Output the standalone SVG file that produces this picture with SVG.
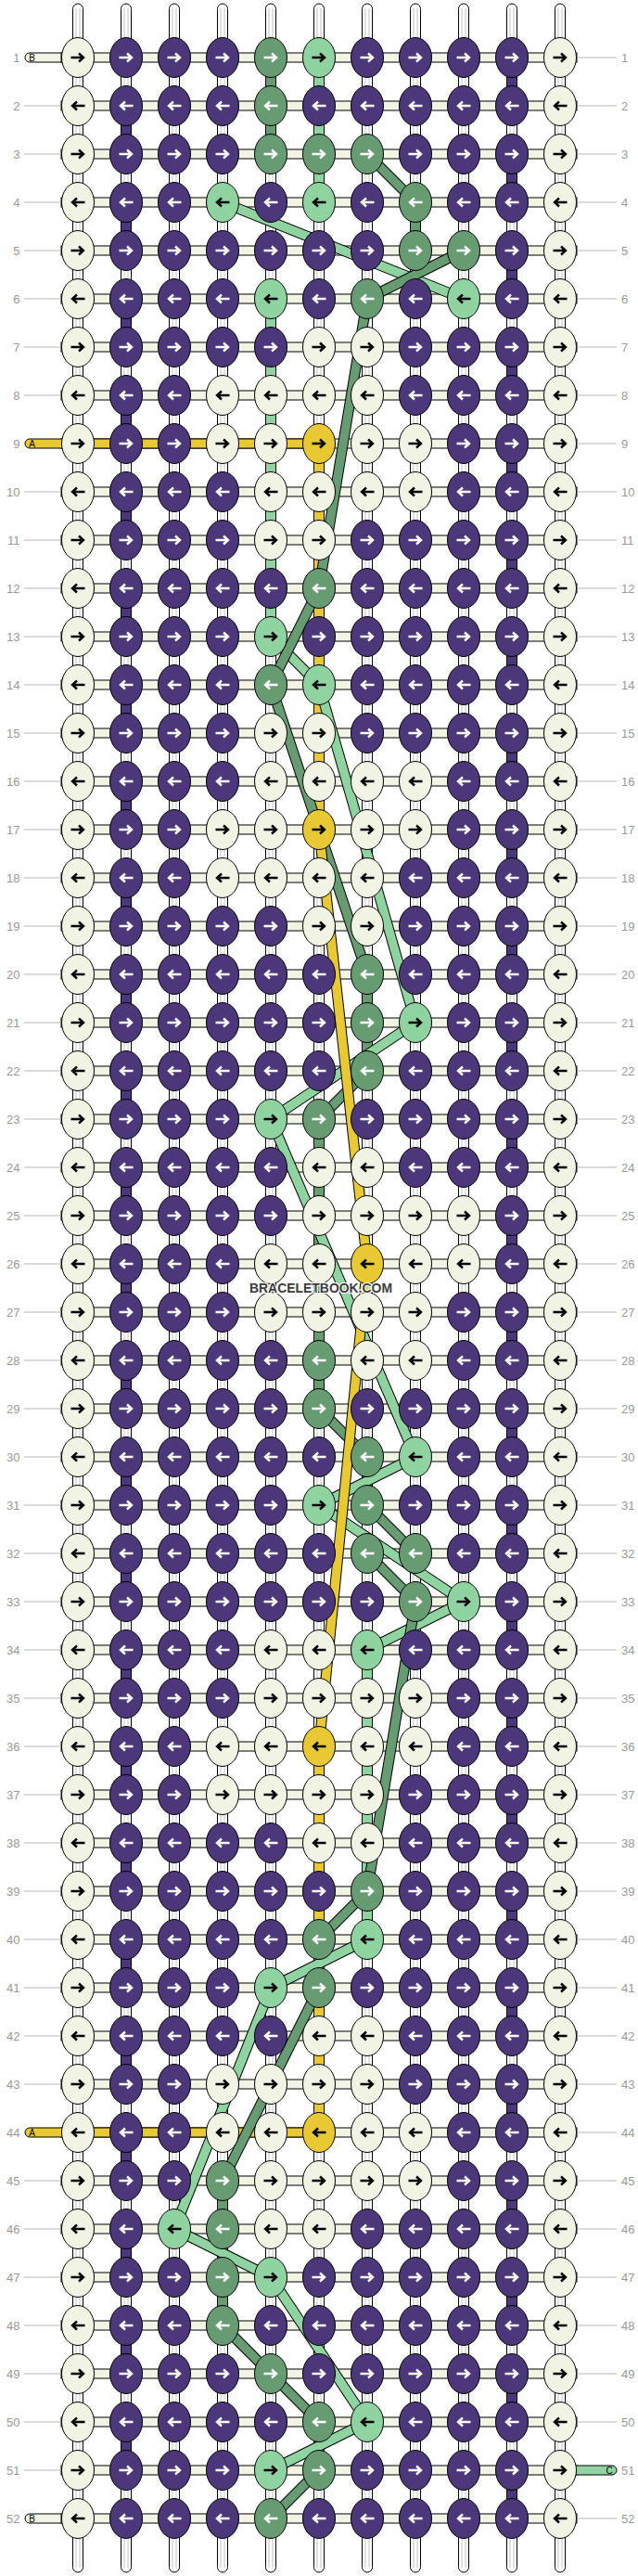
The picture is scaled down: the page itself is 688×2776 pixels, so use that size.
<svg xmlns="http://www.w3.org/2000/svg" width="688" height="2776" viewBox="0 0 688 2776">
<style>
.vs{fill:#fff;stroke:#000;stroke-width:1}
.vi{stroke:#c4c4c4;stroke-width:1;fill:none}
.cg{fill:#679b72;stroke:#000;stroke-width:1}
.cl{fill:#8fd4a0;stroke:#000;stroke-width:1}
.cy{fill:#e8c934;stroke:#000;stroke-width:1}
.cp{fill:#4b3779;stroke:#000;stroke-width:1}
.bd{fill:#f1f4e4;stroke:#000;stroke-width:1}
.ll{stroke:#b4b4b4;stroke-width:1}
.lb{font-family:"Liberation Sans",Arial,sans-serif;font-size:13px;fill:#999}
.pl{font-family:"Liberation Sans",Arial,sans-serif;font-size:10px;fill:#000;text-anchor:middle}
.so{stroke:#000;stroke-width:11.5;fill:none}
.sg{stroke:#679b72;stroke-width:9.5;fill:none}
.sl{stroke:#8fd4a0;stroke-width:9.5;fill:none}
.sy{stroke:#e8c934;stroke-width:9.5;fill:none}
</style>
<defs>
<path id="ar" d="M-7.5,0H5.5M1,-4.5L6,0L1,4.5" fill="none" stroke-width="2.4"/>
<path id="al" d="M7.5,0H-5.5M-1,-4.5L-6,0L-1,4.5" fill="none" stroke-width="2.4"/>
<g id="Cr"><ellipse rx="17.5" ry="21.5" fill="#f1f4e4" stroke="#000"/><use href="#ar" stroke="#000"/></g>
<g id="Cl"><ellipse rx="17.5" ry="21.5" fill="#f1f4e4" stroke="#000"/><use href="#al" stroke="#000"/></g>
<g id="Pr"><ellipse rx="17.5" ry="21.5" fill="#4b3779" stroke="#000"/><use href="#ar" stroke="#fff"/></g>
<g id="Pl"><ellipse rx="17.5" ry="21.5" fill="#4b3779" stroke="#000"/><use href="#al" stroke="#fff"/></g>
<g id="Gr"><ellipse rx="17.5" ry="21.5" fill="#679b72" stroke="#000"/><use href="#ar" stroke="#fff"/></g>
<g id="Gl"><ellipse rx="17.5" ry="21.5" fill="#679b72" stroke="#000"/><use href="#al" stroke="#fff"/></g>
<g id="Lr"><ellipse rx="17.5" ry="21.5" fill="#8fd4a0" stroke="#000"/><use href="#ar" stroke="#000"/></g>
<g id="Ll"><ellipse rx="17.5" ry="21.5" fill="#8fd4a0" stroke="#000"/><use href="#al" stroke="#000"/></g>
<g id="Yr"><ellipse rx="17.5" ry="21.5" fill="#e8c934" stroke="#000"/><use href="#ar" stroke="#000"/></g>
<g id="Yl"><ellipse rx="17.5" ry="21.5" fill="#e8c934" stroke="#000"/><use href="#al" stroke="#000"/></g>
</defs>
<rect width="688" height="2776" fill="#fff"/>
<g id="vertical-strings">
<rect class="vs" x="78.5" y="4" width="11" height="2768" rx="5.5"/>
<rect class="vs" x="130.5" y="4" width="11" height="2768" rx="5.5"/>
<rect class="vs" x="182.5" y="4" width="11" height="2768" rx="5.5"/>
<rect class="vs" x="234.5" y="4" width="11" height="2768" rx="5.5"/>
<rect class="vs" x="286.5" y="4" width="11" height="2768" rx="5.5"/>
<rect class="vs" x="338.5" y="4" width="11" height="2768" rx="5.5"/>
<rect class="vs" x="390.5" y="4" width="11" height="2768" rx="5.5"/>
<rect class="vs" x="442.5" y="4" width="11" height="2768" rx="5.5"/>
<rect class="vs" x="494.5" y="4" width="11" height="2768" rx="5.5"/>
<rect class="vs" x="546.5" y="4" width="11" height="2768" rx="5.5"/>
<rect class="vs" x="598.5" y="4" width="11" height="2768" rx="5.5"/>
<path class="vi" d="M82,9V2767M86,9V2767M134,9V2767M138,9V2767M186,9V2767M190,9V2767M238,9V2767M242,9V2767M290,9V2767M294,9V2767M342,9V2767M346,9V2767M394,9V2767M398,9V2767M446,9V2767M450,9V2767M498,9V2767M502,9V2767M550,9V2767M554,9V2767M602,9V2767M606,9V2767"/>
</g>
<g id="colored-vertical-segments">
<rect class="cp" x="130.5" y="131" width="11" height="18"/>
<rect class="cp" x="130.5" y="235" width="11" height="18"/>
<rect class="cp" x="130.5" y="339" width="11" height="18"/>
<rect class="cp" x="130.5" y="443" width="11" height="18"/>
<rect class="cp" x="130.5" y="547" width="11" height="18"/>
<rect class="cp" x="130.5" y="651" width="11" height="18"/>
<rect class="cp" x="130.5" y="755" width="11" height="18"/>
<rect class="cp" x="130.5" y="859" width="11" height="18"/>
<rect class="cp" x="130.5" y="963" width="11" height="18"/>
<rect class="cp" x="130.5" y="1067" width="11" height="18"/>
<rect class="cp" x="130.5" y="1171" width="11" height="18"/>
<rect class="cp" x="130.5" y="1275" width="11" height="18"/>
<rect class="cp" x="130.5" y="1379" width="11" height="18"/>
<rect class="cp" x="130.5" y="1483" width="11" height="18"/>
<rect class="cp" x="130.5" y="1587" width="11" height="18"/>
<rect class="cp" x="130.5" y="1691" width="11" height="18"/>
<rect class="cp" x="130.5" y="1795" width="11" height="18"/>
<rect class="cp" x="130.5" y="1899" width="11" height="18"/>
<rect class="cp" x="130.5" y="2003" width="11" height="18"/>
<rect class="cp" x="130.5" y="2107" width="11" height="18"/>
<rect class="cp" x="130.5" y="2211" width="11" height="18"/>
<rect class="cp" x="130.5" y="2315" width="11" height="18"/>
<rect class="cp" x="130.5" y="2419" width="11" height="18"/>
<rect class="cp" x="130.5" y="2523" width="11" height="18"/>
<rect class="cp" x="130.5" y="2627" width="11" height="18"/>
<rect class="cp" x="546.5" y="79" width="11" height="18"/>
<rect class="cp" x="546.5" y="183" width="11" height="18"/>
<rect class="cp" x="546.5" y="287" width="11" height="18"/>
<rect class="cp" x="546.5" y="391" width="11" height="18"/>
<rect class="cp" x="546.5" y="495" width="11" height="18"/>
<rect class="cp" x="546.5" y="599" width="11" height="18"/>
<rect class="cp" x="546.5" y="703" width="11" height="18"/>
<rect class="cp" x="546.5" y="807" width="11" height="18"/>
<rect class="cp" x="546.5" y="911" width="11" height="18"/>
<rect class="cp" x="546.5" y="1015" width="11" height="18"/>
<rect class="cp" x="546.5" y="1119" width="11" height="18"/>
<rect class="cp" x="546.5" y="1223" width="11" height="18"/>
<rect class="cp" x="546.5" y="1327" width="11" height="18"/>
<rect class="cp" x="546.5" y="1431" width="11" height="18"/>
<rect class="cp" x="546.5" y="1535" width="11" height="18"/>
<rect class="cp" x="546.5" y="1639" width="11" height="18"/>
<rect class="cp" x="546.5" y="1743" width="11" height="18"/>
<rect class="cp" x="546.5" y="1847" width="11" height="18"/>
<rect class="cp" x="546.5" y="1951" width="11" height="18"/>
<rect class="cp" x="546.5" y="2055" width="11" height="18"/>
<rect class="cp" x="546.5" y="2159" width="11" height="18"/>
<rect class="cp" x="546.5" y="2263" width="11" height="18"/>
<rect class="cp" x="546.5" y="2367" width="11" height="18"/>
<rect class="cp" x="546.5" y="2471" width="11" height="18"/>
<rect class="cp" x="546.5" y="2575" width="11" height="18"/>
<rect class="cp" x="546.5" y="2679" width="11" height="18"/>
<rect class="cg" x="286.5" y="79" width="11" height="18"/>
<rect class="cg" x="286.5" y="131" width="11" height="18"/>
<rect class="cg" x="442.5" y="235" width="11" height="18"/>
<rect class="cg" x="390.5" y="1067" width="11" height="18"/>
<rect class="cg" x="390.5" y="1119" width="11" height="18"/>
<rect class="cg" x="338.5" y="1223" width="11" height="18"/>
<rect class="cg" x="338.5" y="1275" width="11" height="18"/>
<rect class="cg" x="338.5" y="1327" width="11" height="18"/>
<rect class="cg" x="338.5" y="1379" width="11" height="18"/>
<rect class="cg" x="338.5" y="1431" width="11" height="18"/>
<rect class="cg" x="338.5" y="1483" width="11" height="18"/>
<rect class="cg" x="390.5" y="1587" width="11" height="18"/>
<rect class="cg" x="234.5" y="2367" width="11" height="18"/>
<rect class="cg" x="234.5" y="2419" width="11" height="18"/>
<rect class="cg" x="234.5" y="2471" width="11" height="18"/>
<rect class="cg" x="338.5" y="2627" width="11" height="18"/>
<rect class="cl" x="338.5" y="79" width="11" height="18"/>
<rect class="cl" x="338.5" y="131" width="11" height="18"/>
<rect class="cl" x="338.5" y="183" width="11" height="18"/>
<rect class="cl" x="286.5" y="339" width="11" height="18"/>
<rect class="cl" x="286.5" y="391" width="11" height="18"/>
<rect class="cl" x="286.5" y="443" width="11" height="18"/>
<rect class="cl" x="286.5" y="495" width="11" height="18"/>
<rect class="cl" x="286.5" y="547" width="11" height="18"/>
<rect class="cl" x="286.5" y="599" width="11" height="18"/>
<rect class="cl" x="286.5" y="651" width="11" height="18"/>
<rect class="cl" x="390.5" y="1795" width="11" height="18"/>
<rect class="cl" x="390.5" y="1847" width="11" height="18"/>
<rect class="cl" x="390.5" y="1899" width="11" height="18"/>
<rect class="cl" x="390.5" y="1951" width="11" height="18"/>
<rect class="cl" x="390.5" y="2003" width="11" height="18"/>
<rect class="cl" x="390.5" y="2055" width="11" height="18"/>
<rect class="cy" x="338.5" y="495" width="11" height="18"/>
<rect class="cy" x="338.5" y="547" width="11" height="18"/>
<rect class="cy" x="338.5" y="599" width="11" height="18"/>
<rect class="cy" x="338.5" y="651" width="11" height="18"/>
<rect class="cy" x="338.5" y="703" width="11" height="18"/>
<rect class="cy" x="338.5" y="755" width="11" height="18"/>
<rect class="cy" x="338.5" y="807" width="11" height="18"/>
<rect class="cy" x="338.5" y="859" width="11" height="18"/>
<rect class="cy" x="338.5" y="1899" width="11" height="18"/>
<rect class="cy" x="338.5" y="1951" width="11" height="18"/>
<rect class="cy" x="338.5" y="2003" width="11" height="18"/>
<rect class="cy" x="338.5" y="2055" width="11" height="18"/>
<rect class="cy" x="338.5" y="2107" width="11" height="18"/>
<rect class="cy" x="338.5" y="2159" width="11" height="18"/>
<rect class="cy" x="338.5" y="2211" width="11" height="18"/>
<rect class="cy" x="338.5" y="2263" width="11" height="18"/>
</g>
<g id="row-bands">
<rect class="bd" x="27" y="57" width="60" height="10" rx="5"/>
<rect class="bd" x="66" y="57" width="556" height="10"/>
<rect class="bd" x="66" y="109" width="556" height="10"/>
<rect class="bd" x="66" y="161" width="556" height="10"/>
<rect class="bd" x="66" y="213" width="556" height="10"/>
<rect class="bd" x="66" y="265" width="556" height="10"/>
<rect class="bd" x="66" y="317" width="556" height="10"/>
<rect class="bd" x="66" y="369" width="556" height="10"/>
<rect class="bd" x="66" y="421" width="556" height="10"/>
<rect class="bd" x="66" y="473" width="556" height="10"/>
<rect class="bd" x="66" y="525" width="556" height="10"/>
<rect class="bd" x="66" y="577" width="556" height="10"/>
<rect class="bd" x="66" y="629" width="556" height="10"/>
<rect class="bd" x="66" y="681" width="556" height="10"/>
<rect class="bd" x="66" y="733" width="556" height="10"/>
<rect class="bd" x="66" y="785" width="556" height="10"/>
<rect class="bd" x="66" y="837" width="556" height="10"/>
<rect class="bd" x="66" y="889" width="556" height="10"/>
<rect class="bd" x="66" y="941" width="556" height="10"/>
<rect class="bd" x="66" y="993" width="556" height="10"/>
<rect class="bd" x="66" y="1045" width="556" height="10"/>
<rect class="bd" x="66" y="1097" width="556" height="10"/>
<rect class="bd" x="66" y="1149" width="556" height="10"/>
<rect class="bd" x="66" y="1201" width="556" height="10"/>
<rect class="bd" x="66" y="1253" width="556" height="10"/>
<rect class="bd" x="66" y="1305" width="556" height="10"/>
<rect class="bd" x="66" y="1357" width="556" height="10"/>
<rect class="bd" x="66" y="1409" width="556" height="10"/>
<rect class="bd" x="66" y="1461" width="556" height="10"/>
<rect class="bd" x="66" y="1513" width="556" height="10"/>
<rect class="bd" x="66" y="1565" width="556" height="10"/>
<rect class="bd" x="66" y="1617" width="556" height="10"/>
<rect class="bd" x="66" y="1669" width="556" height="10"/>
<rect class="bd" x="66" y="1721" width="556" height="10"/>
<rect class="bd" x="66" y="1773" width="556" height="10"/>
<rect class="bd" x="66" y="1825" width="556" height="10"/>
<rect class="bd" x="66" y="1877" width="556" height="10"/>
<rect class="bd" x="66" y="1929" width="556" height="10"/>
<rect class="bd" x="66" y="1981" width="556" height="10"/>
<rect class="bd" x="66" y="2033" width="556" height="10"/>
<rect class="bd" x="66" y="2085" width="556" height="10"/>
<rect class="bd" x="66" y="2137" width="556" height="10"/>
<rect class="bd" x="66" y="2189" width="556" height="10"/>
<rect class="bd" x="66" y="2241" width="556" height="10"/>
<rect class="bd" x="66" y="2293" width="556" height="10"/>
<rect class="bd" x="66" y="2345" width="556" height="10"/>
<rect class="bd" x="66" y="2397" width="556" height="10"/>
<rect class="bd" x="66" y="2449" width="556" height="10"/>
<rect class="bd" x="66" y="2501" width="556" height="10"/>
<rect class="bd" x="66" y="2553" width="556" height="10"/>
<rect class="bd" x="66" y="2605" width="556" height="10"/>
<rect class="bd" x="66" y="2657" width="556" height="10"/>
<rect class="bd" x="27" y="2709" width="60" height="10" rx="5"/>
<rect class="bd" x="66" y="2709" width="556" height="10"/>
<rect x="27" y="473" width="320" height="10" rx="5" fill="#e8c934" stroke="#000"/>
<rect x="27" y="2293" width="320" height="10" rx="5" fill="#e8c934" stroke="#000"/>
<rect x="600" y="2657" width="65" height="10" rx="5" fill="#8fd4a0" stroke="#000"/>
<text class="pl" x="34.5" y="65.6">B</text>
<text class="pl" x="34.5" y="481.6">A</text>
<text class="pl" x="34.5" y="2301.6">A</text>
<text class="pl" x="34.5" y="2717.6">B</text>
<text class="pl" x="657" y="2665.6">C</text>
</g>
<g id="connectors">
<line class="so" x1="396" y1="166" x2="448" y2="218"/><line class="sg" x1="396" y1="166" x2="448" y2="218"/>
<line class="so" x1="240" y1="218" x2="500" y2="322"/><line class="sl" x1="240" y1="218" x2="500" y2="322"/>
<line class="so" x1="500" y1="270" x2="396" y2="322"/><line class="sg" x1="500" y1="270" x2="396" y2="322"/>
<line class="so" x1="396" y1="322" x2="344" y2="634"/><line class="sg" x1="396" y1="322" x2="344" y2="634"/>
<line class="so" x1="292" y1="686" x2="344" y2="738"/><line class="sl" x1="292" y1="686" x2="344" y2="738"/>
<line class="so" x1="344" y1="634" x2="292" y2="738"/><line class="sg" x1="344" y1="634" x2="292" y2="738"/>
<line class="so" x1="292" y1="738" x2="396" y2="1050"/><line class="sg" x1="292" y1="738" x2="396" y2="1050"/>
<line class="so" x1="344" y1="738" x2="448" y2="1102"/><line class="sl" x1="344" y1="738" x2="448" y2="1102"/>
<line class="so" x1="448" y1="1102" x2="292" y2="1206"/><line class="sl" x1="448" y1="1102" x2="292" y2="1206"/>
<line class="so" x1="396" y1="1154" x2="344" y2="1206"/><line class="sg" x1="396" y1="1154" x2="344" y2="1206"/>
<line class="so" x1="292" y1="1206" x2="448" y2="1570"/><line class="sl" x1="292" y1="1206" x2="448" y2="1570"/>
<line class="so" x1="344" y1="1518" x2="396" y2="1570"/><line class="sg" x1="344" y1="1518" x2="396" y2="1570"/>
<line class="so" x1="448" y1="1570" x2="344" y2="1622"/><line class="sl" x1="448" y1="1570" x2="344" y2="1622"/>
<line class="so" x1="396" y1="1622" x2="448" y2="1674"/><line class="sg" x1="396" y1="1622" x2="448" y2="1674"/>
<line class="so" x1="396" y1="1674" x2="448" y2="1726"/><line class="sg" x1="396" y1="1674" x2="448" y2="1726"/>
<line class="so" x1="344" y1="1622" x2="500" y2="1726"/><line class="sl" x1="344" y1="1622" x2="500" y2="1726"/>
<line class="so" x1="500" y1="1726" x2="396" y2="1778"/><line class="sl" x1="500" y1="1726" x2="396" y2="1778"/>
<line class="so" x1="448" y1="1726" x2="396" y2="2038"/><line class="sg" x1="448" y1="1726" x2="396" y2="2038"/>
<line class="so" x1="396" y1="2038" x2="344" y2="2090"/><line class="sg" x1="396" y1="2038" x2="344" y2="2090"/>
<line class="so" x1="396" y1="2090" x2="292" y2="2142"/><line class="sl" x1="396" y1="2090" x2="292" y2="2142"/>
<line class="so" x1="344" y1="2142" x2="240" y2="2350"/><line class="sg" x1="344" y1="2142" x2="240" y2="2350"/>
<line class="so" x1="292" y1="2142" x2="188" y2="2402"/><line class="sl" x1="292" y1="2142" x2="188" y2="2402"/>
<line class="so" x1="188" y1="2402" x2="292" y2="2454"/><line class="sl" x1="188" y1="2402" x2="292" y2="2454"/>
<line class="so" x1="240" y1="2506" x2="292" y2="2558"/><line class="sg" x1="240" y1="2506" x2="292" y2="2558"/>
<line class="so" x1="292" y1="2454" x2="396" y2="2610"/><line class="sl" x1="292" y1="2454" x2="396" y2="2610"/>
<line class="so" x1="292" y1="2558" x2="344" y2="2610"/><line class="sg" x1="292" y1="2558" x2="344" y2="2610"/>
<line class="so" x1="396" y1="2610" x2="292" y2="2662"/><line class="sl" x1="396" y1="2610" x2="292" y2="2662"/>
<line class="so" x1="344" y1="2662" x2="292" y2="2714"/><line class="sg" x1="344" y1="2662" x2="292" y2="2714"/>
<line class="so" x1="344" y1="894" x2="396" y2="1362"/><line class="sy" x1="344" y1="894" x2="396" y2="1362"/>
<line class="so" x1="396" y1="1362" x2="344" y2="1882"/><line class="sy" x1="396" y1="1362" x2="344" y2="1882"/>
</g>
<g id="row-labels">
<path class="ll" d="M26,114H66M26,166H66M26,218H66M26,270H66M26,322H66M26,374H66M26,426H66M26,530H66M26,582H66M26,634H66M26,686H66M26,738H66M26,790H66M26,842H66M26,894H66M26,946H66M26,998H66M26,1050H66M26,1102H66M26,1154H66M26,1206H66M26,1258H66M26,1310H66M26,1362H66M26,1414H66M26,1466H66M26,1518H66M26,1570H66M26,1622H66M26,1674H66M26,1726H66M26,1778H66M26,1830H66M26,1882H66M26,1934H66M26,1986H66M26,2038H66M26,2090H66M26,2142H66M26,2194H66M26,2246H66M26,2350H66M26,2402H66M26,2454H66M26,2506H66M26,2558H66M26,2610H66M26,2662H66"/>
<path class="ll" d="M622,62H665M622,114H665M622,166H665M622,218H665M622,270H665M622,322H665M622,374H665M622,426H665M622,478H665M622,530H665M622,582H665M622,634H665M622,686H665M622,738H665M622,790H665M622,842H665M622,894H665M622,946H665M622,998H665M622,1050H665M622,1102H665M622,1154H665M622,1206H665M622,1258H665M622,1310H665M622,1362H665M622,1414H665M622,1466H665M622,1518H665M622,1570H665M622,1622H665M622,1674H665M622,1726H665M622,1778H665M622,1830H665M622,1882H665M622,1934H665M622,1986H665M622,2038H665M622,2090H665M622,2142H665M622,2194H665M622,2246H665M622,2298H665M622,2350H665M622,2402H665M622,2454H665M622,2506H665M622,2558H665M622,2610H665M622,2714H665"/>
<g class="lb" text-anchor="end">
<text x="21.5" y="66.5">1</text><text x="21.5" y="118.5">2</text><text x="21.5" y="170.5">3</text><text x="21.5" y="222.5">4</text><text x="21.5" y="274.5">5</text><text x="21.5" y="326.5">6</text><text x="21.5" y="378.5">7</text><text x="21.5" y="430.5">8</text><text x="21.5" y="482.5">9</text><text x="21.5" y="534.5">10</text><text x="21.5" y="586.5">11</text><text x="21.5" y="638.5">12</text><text x="21.5" y="690.5">13</text><text x="21.5" y="742.5">14</text><text x="21.5" y="794.5">15</text><text x="21.5" y="846.5">16</text><text x="21.5" y="898.5">17</text><text x="21.5" y="950.5">18</text><text x="21.5" y="1002.5">19</text><text x="21.5" y="1054.5">20</text><text x="21.5" y="1106.5">21</text><text x="21.5" y="1158.5">22</text><text x="21.5" y="1210.5">23</text><text x="21.5" y="1262.5">24</text><text x="21.5" y="1314.5">25</text><text x="21.5" y="1366.5">26</text><text x="21.5" y="1418.5">27</text><text x="21.5" y="1470.5">28</text><text x="21.5" y="1522.5">29</text><text x="21.5" y="1574.5">30</text><text x="21.5" y="1626.5">31</text><text x="21.5" y="1678.5">32</text><text x="21.5" y="1730.5">33</text><text x="21.5" y="1782.5">34</text><text x="21.5" y="1834.5">35</text><text x="21.5" y="1886.5">36</text><text x="21.5" y="1938.5">37</text><text x="21.5" y="1990.5">38</text><text x="21.5" y="2042.5">39</text><text x="21.5" y="2094.5">40</text><text x="21.5" y="2146.5">41</text><text x="21.5" y="2198.5">42</text><text x="21.5" y="2250.5">43</text><text x="21.5" y="2302.5">44</text><text x="21.5" y="2354.5">45</text><text x="21.5" y="2406.5">46</text><text x="21.5" y="2458.5">47</text><text x="21.5" y="2510.5">48</text><text x="21.5" y="2562.5">49</text><text x="21.5" y="2614.5">50</text><text x="21.5" y="2666.5">51</text><text x="21.5" y="2718.5">52</text>
</g>
<g class="lb" text-anchor="start">
<text x="670" y="66.5">1</text><text x="670" y="118.5">2</text><text x="670" y="170.5">3</text><text x="670" y="222.5">4</text><text x="670" y="274.5">5</text><text x="670" y="326.5">6</text><text x="670" y="378.5">7</text><text x="670" y="430.5">8</text><text x="670" y="482.5">9</text><text x="670" y="534.5">10</text><text x="670" y="586.5">11</text><text x="670" y="638.5">12</text><text x="670" y="690.5">13</text><text x="670" y="742.5">14</text><text x="670" y="794.5">15</text><text x="670" y="846.5">16</text><text x="670" y="898.5">17</text><text x="670" y="950.5">18</text><text x="670" y="1002.5">19</text><text x="670" y="1054.5">20</text><text x="670" y="1106.5">21</text><text x="670" y="1158.5">22</text><text x="670" y="1210.5">23</text><text x="670" y="1262.5">24</text><text x="670" y="1314.5">25</text><text x="670" y="1366.5">26</text><text x="670" y="1418.5">27</text><text x="670" y="1470.5">28</text><text x="670" y="1522.5">29</text><text x="670" y="1574.5">30</text><text x="670" y="1626.5">31</text><text x="670" y="1678.5">32</text><text x="670" y="1730.5">33</text><text x="670" y="1782.5">34</text><text x="670" y="1834.5">35</text><text x="670" y="1886.5">36</text><text x="670" y="1938.5">37</text><text x="670" y="1990.5">38</text><text x="670" y="2042.5">39</text><text x="670" y="2094.5">40</text><text x="670" y="2146.5">41</text><text x="670" y="2198.5">42</text><text x="670" y="2250.5">43</text><text x="670" y="2302.5">44</text><text x="670" y="2354.5">45</text><text x="670" y="2406.5">46</text><text x="670" y="2458.5">47</text><text x="670" y="2510.5">48</text><text x="670" y="2562.5">49</text><text x="670" y="2614.5">50</text><text x="670" y="2666.5">51</text><text x="670" y="2718.5">52</text>
</g>
</g>
<g id="knots">
<g id="k1-1"><use href="#Cr" x="84" y="62"/></g><g id="k1-2"><use href="#Pr" x="136" y="62"/></g><g id="k1-3"><use href="#Pr" x="188" y="62"/></g><g id="k1-4"><use href="#Pr" x="240" y="62"/></g><g id="k1-5"><use href="#Gr" x="292" y="62"/></g><g id="k1-6"><use href="#Lr" x="344" y="62"/></g><g id="k1-7"><use href="#Pr" x="396" y="62"/></g><g id="k1-8"><use href="#Pr" x="448" y="62"/></g><g id="k1-9"><use href="#Pr" x="500" y="62"/></g><g id="k1-10"><use href="#Pr" x="552" y="62"/></g><g id="k1-11"><use href="#Cr" x="604" y="62"/></g>
<g id="k2-1"><use href="#Cl" x="84" y="114"/></g><g id="k2-2"><use href="#Pl" x="136" y="114"/></g><g id="k2-3"><use href="#Pl" x="188" y="114"/></g><g id="k2-4"><use href="#Pl" x="240" y="114"/></g><g id="k2-5"><use href="#Gl" x="292" y="114"/></g><g id="k2-6"><use href="#Pl" x="344" y="114"/></g><g id="k2-7"><use href="#Pl" x="396" y="114"/></g><g id="k2-8"><use href="#Pl" x="448" y="114"/></g><g id="k2-9"><use href="#Pl" x="500" y="114"/></g><g id="k2-10"><use href="#Pl" x="552" y="114"/></g><g id="k2-11"><use href="#Cl" x="604" y="114"/></g>
<g id="k3-1"><use href="#Cr" x="84" y="166"/></g><g id="k3-2"><use href="#Pr" x="136" y="166"/></g><g id="k3-3"><use href="#Pr" x="188" y="166"/></g><g id="k3-4"><use href="#Pr" x="240" y="166"/></g><g id="k3-5"><use href="#Gr" x="292" y="166"/></g><g id="k3-6"><use href="#Gr" x="344" y="166"/></g><g id="k3-7"><use href="#Gr" x="396" y="166"/></g><g id="k3-8"><use href="#Pr" x="448" y="166"/></g><g id="k3-9"><use href="#Pr" x="500" y="166"/></g><g id="k3-10"><use href="#Pr" x="552" y="166"/></g><g id="k3-11"><use href="#Cr" x="604" y="166"/></g>
<g id="k4-1"><use href="#Cl" x="84" y="218"/></g><g id="k4-2"><use href="#Pl" x="136" y="218"/></g><g id="k4-3"><use href="#Pl" x="188" y="218"/></g><g id="k4-4"><use href="#Ll" x="240" y="218"/></g><g id="k4-5"><use href="#Pl" x="292" y="218"/></g><g id="k4-6"><use href="#Ll" x="344" y="218"/></g><g id="k4-7"><use href="#Pl" x="396" y="218"/></g><g id="k4-8"><use href="#Gl" x="448" y="218"/></g><g id="k4-9"><use href="#Pl" x="500" y="218"/></g><g id="k4-10"><use href="#Pl" x="552" y="218"/></g><g id="k4-11"><use href="#Cl" x="604" y="218"/></g>
<g id="k5-1"><use href="#Cr" x="84" y="270"/></g><g id="k5-2"><use href="#Pr" x="136" y="270"/></g><g id="k5-3"><use href="#Pr" x="188" y="270"/></g><g id="k5-4"><use href="#Pr" x="240" y="270"/></g><g id="k5-5"><use href="#Pr" x="292" y="270"/></g><g id="k5-6"><use href="#Pr" x="344" y="270"/></g><g id="k5-7"><use href="#Pr" x="396" y="270"/></g><g id="k5-8"><use href="#Gr" x="448" y="270"/></g><g id="k5-9"><use href="#Gr" x="500" y="270"/></g><g id="k5-10"><use href="#Pr" x="552" y="270"/></g><g id="k5-11"><use href="#Cr" x="604" y="270"/></g>
<g id="k6-1"><use href="#Cl" x="84" y="322"/></g><g id="k6-2"><use href="#Pl" x="136" y="322"/></g><g id="k6-3"><use href="#Pl" x="188" y="322"/></g><g id="k6-4"><use href="#Pl" x="240" y="322"/></g><g id="k6-5"><use href="#Ll" x="292" y="322"/></g><g id="k6-6"><use href="#Pl" x="344" y="322"/></g><g id="k6-7"><use href="#Gl" x="396" y="322"/></g><g id="k6-8"><use href="#Pl" x="448" y="322"/></g><g id="k6-9"><use href="#Ll" x="500" y="322"/></g><g id="k6-10"><use href="#Pl" x="552" y="322"/></g><g id="k6-11"><use href="#Cl" x="604" y="322"/></g>
<g id="k7-1"><use href="#Cr" x="84" y="374"/></g><g id="k7-2"><use href="#Pr" x="136" y="374"/></g><g id="k7-3"><use href="#Pr" x="188" y="374"/></g><g id="k7-4"><use href="#Pr" x="240" y="374"/></g><g id="k7-5"><use href="#Pr" x="292" y="374"/></g><g id="k7-6"><use href="#Cr" x="344" y="374"/></g><g id="k7-7"><use href="#Cr" x="396" y="374"/></g><g id="k7-8"><use href="#Pr" x="448" y="374"/></g><g id="k7-9"><use href="#Pr" x="500" y="374"/></g><g id="k7-10"><use href="#Pr" x="552" y="374"/></g><g id="k7-11"><use href="#Cr" x="604" y="374"/></g>
<g id="k8-1"><use href="#Cl" x="84" y="426"/></g><g id="k8-2"><use href="#Pl" x="136" y="426"/></g><g id="k8-3"><use href="#Pl" x="188" y="426"/></g><g id="k8-4"><use href="#Cl" x="240" y="426"/></g><g id="k8-5"><use href="#Cl" x="292" y="426"/></g><g id="k8-6"><use href="#Cl" x="344" y="426"/></g><g id="k8-7"><use href="#Cl" x="396" y="426"/></g><g id="k8-8"><use href="#Pl" x="448" y="426"/></g><g id="k8-9"><use href="#Pl" x="500" y="426"/></g><g id="k8-10"><use href="#Pl" x="552" y="426"/></g><g id="k8-11"><use href="#Cl" x="604" y="426"/></g>
<g id="k9-1"><use href="#Cr" x="84" y="478"/></g><g id="k9-2"><use href="#Pr" x="136" y="478"/></g><g id="k9-3"><use href="#Pr" x="188" y="478"/></g><g id="k9-4"><use href="#Cr" x="240" y="478"/></g><g id="k9-5"><use href="#Cr" x="292" y="478"/></g><g id="k9-6"><use href="#Yr" x="344" y="478"/></g><g id="k9-7"><use href="#Cr" x="396" y="478"/></g><g id="k9-8"><use href="#Cr" x="448" y="478"/></g><g id="k9-9"><use href="#Pr" x="500" y="478"/></g><g id="k9-10"><use href="#Pr" x="552" y="478"/></g><g id="k9-11"><use href="#Cr" x="604" y="478"/></g>
<g id="k10-1"><use href="#Cl" x="84" y="530"/></g><g id="k10-2"><use href="#Pl" x="136" y="530"/></g><g id="k10-3"><use href="#Pl" x="188" y="530"/></g><g id="k10-4"><use href="#Pl" x="240" y="530"/></g><g id="k10-5"><use href="#Cl" x="292" y="530"/></g><g id="k10-6"><use href="#Cl" x="344" y="530"/></g><g id="k10-7"><use href="#Cl" x="396" y="530"/></g><g id="k10-8"><use href="#Cl" x="448" y="530"/></g><g id="k10-9"><use href="#Pl" x="500" y="530"/></g><g id="k10-10"><use href="#Pl" x="552" y="530"/></g><g id="k10-11"><use href="#Cl" x="604" y="530"/></g>
<g id="k11-1"><use href="#Cr" x="84" y="582"/></g><g id="k11-2"><use href="#Pr" x="136" y="582"/></g><g id="k11-3"><use href="#Pr" x="188" y="582"/></g><g id="k11-4"><use href="#Pr" x="240" y="582"/></g><g id="k11-5"><use href="#Cr" x="292" y="582"/></g><g id="k11-6"><use href="#Cr" x="344" y="582"/></g><g id="k11-7"><use href="#Pr" x="396" y="582"/></g><g id="k11-8"><use href="#Pr" x="448" y="582"/></g><g id="k11-9"><use href="#Pr" x="500" y="582"/></g><g id="k11-10"><use href="#Pr" x="552" y="582"/></g><g id="k11-11"><use href="#Cr" x="604" y="582"/></g>
<g id="k12-1"><use href="#Cl" x="84" y="634"/></g><g id="k12-2"><use href="#Pl" x="136" y="634"/></g><g id="k12-3"><use href="#Pl" x="188" y="634"/></g><g id="k12-4"><use href="#Pl" x="240" y="634"/></g><g id="k12-5"><use href="#Pl" x="292" y="634"/></g><g id="k12-6"><use href="#Gl" x="344" y="634"/></g><g id="k12-7"><use href="#Pl" x="396" y="634"/></g><g id="k12-8"><use href="#Pl" x="448" y="634"/></g><g id="k12-9"><use href="#Pl" x="500" y="634"/></g><g id="k12-10"><use href="#Pl" x="552" y="634"/></g><g id="k12-11"><use href="#Cl" x="604" y="634"/></g>
<g id="k13-1"><use href="#Cr" x="84" y="686"/></g><g id="k13-2"><use href="#Pr" x="136" y="686"/></g><g id="k13-3"><use href="#Pr" x="188" y="686"/></g><g id="k13-4"><use href="#Pr" x="240" y="686"/></g><g id="k13-5"><use href="#Lr" x="292" y="686"/></g><g id="k13-6"><use href="#Pr" x="344" y="686"/></g><g id="k13-7"><use href="#Pr" x="396" y="686"/></g><g id="k13-8"><use href="#Pr" x="448" y="686"/></g><g id="k13-9"><use href="#Pr" x="500" y="686"/></g><g id="k13-10"><use href="#Pr" x="552" y="686"/></g><g id="k13-11"><use href="#Cr" x="604" y="686"/></g>
<g id="k14-1"><use href="#Cl" x="84" y="738"/></g><g id="k14-2"><use href="#Pl" x="136" y="738"/></g><g id="k14-3"><use href="#Pl" x="188" y="738"/></g><g id="k14-4"><use href="#Pl" x="240" y="738"/></g><g id="k14-5"><use href="#Gl" x="292" y="738"/></g><g id="k14-6"><use href="#Ll" x="344" y="738"/></g><g id="k14-7"><use href="#Pl" x="396" y="738"/></g><g id="k14-8"><use href="#Pl" x="448" y="738"/></g><g id="k14-9"><use href="#Pl" x="500" y="738"/></g><g id="k14-10"><use href="#Pl" x="552" y="738"/></g><g id="k14-11"><use href="#Cl" x="604" y="738"/></g>
<g id="k15-1"><use href="#Cr" x="84" y="790"/></g><g id="k15-2"><use href="#Pr" x="136" y="790"/></g><g id="k15-3"><use href="#Pr" x="188" y="790"/></g><g id="k15-4"><use href="#Pr" x="240" y="790"/></g><g id="k15-5"><use href="#Cr" x="292" y="790"/></g><g id="k15-6"><use href="#Cr" x="344" y="790"/></g><g id="k15-7"><use href="#Pr" x="396" y="790"/></g><g id="k15-8"><use href="#Pr" x="448" y="790"/></g><g id="k15-9"><use href="#Pr" x="500" y="790"/></g><g id="k15-10"><use href="#Pr" x="552" y="790"/></g><g id="k15-11"><use href="#Cr" x="604" y="790"/></g>
<g id="k16-1"><use href="#Cl" x="84" y="842"/></g><g id="k16-2"><use href="#Pl" x="136" y="842"/></g><g id="k16-3"><use href="#Pl" x="188" y="842"/></g><g id="k16-4"><use href="#Pl" x="240" y="842"/></g><g id="k16-5"><use href="#Cl" x="292" y="842"/></g><g id="k16-6"><use href="#Cl" x="344" y="842"/></g><g id="k16-7"><use href="#Cl" x="396" y="842"/></g><g id="k16-8"><use href="#Cl" x="448" y="842"/></g><g id="k16-9"><use href="#Pl" x="500" y="842"/></g><g id="k16-10"><use href="#Pl" x="552" y="842"/></g><g id="k16-11"><use href="#Cl" x="604" y="842"/></g>
<g id="k17-1"><use href="#Cr" x="84" y="894"/></g><g id="k17-2"><use href="#Pr" x="136" y="894"/></g><g id="k17-3"><use href="#Pr" x="188" y="894"/></g><g id="k17-4"><use href="#Cr" x="240" y="894"/></g><g id="k17-5"><use href="#Cr" x="292" y="894"/></g><g id="k17-6"><use href="#Yr" x="344" y="894"/></g><g id="k17-7"><use href="#Cr" x="396" y="894"/></g><g id="k17-8"><use href="#Cr" x="448" y="894"/></g><g id="k17-9"><use href="#Pr" x="500" y="894"/></g><g id="k17-10"><use href="#Pr" x="552" y="894"/></g><g id="k17-11"><use href="#Cr" x="604" y="894"/></g>
<g id="k18-1"><use href="#Cl" x="84" y="946"/></g><g id="k18-2"><use href="#Pl" x="136" y="946"/></g><g id="k18-3"><use href="#Pl" x="188" y="946"/></g><g id="k18-4"><use href="#Cl" x="240" y="946"/></g><g id="k18-5"><use href="#Cl" x="292" y="946"/></g><g id="k18-6"><use href="#Cl" x="344" y="946"/></g><g id="k18-7"><use href="#Cl" x="396" y="946"/></g><g id="k18-8"><use href="#Pl" x="448" y="946"/></g><g id="k18-9"><use href="#Pl" x="500" y="946"/></g><g id="k18-10"><use href="#Pl" x="552" y="946"/></g><g id="k18-11"><use href="#Cl" x="604" y="946"/></g>
<g id="k19-1"><use href="#Cr" x="84" y="998"/></g><g id="k19-2"><use href="#Pr" x="136" y="998"/></g><g id="k19-3"><use href="#Pr" x="188" y="998"/></g><g id="k19-4"><use href="#Pr" x="240" y="998"/></g><g id="k19-5"><use href="#Pr" x="292" y="998"/></g><g id="k19-6"><use href="#Cr" x="344" y="998"/></g><g id="k19-7"><use href="#Cr" x="396" y="998"/></g><g id="k19-8"><use href="#Pr" x="448" y="998"/></g><g id="k19-9"><use href="#Pr" x="500" y="998"/></g><g id="k19-10"><use href="#Pr" x="552" y="998"/></g><g id="k19-11"><use href="#Cr" x="604" y="998"/></g>
<g id="k20-1"><use href="#Cl" x="84" y="1050"/></g><g id="k20-2"><use href="#Pl" x="136" y="1050"/></g><g id="k20-3"><use href="#Pl" x="188" y="1050"/></g><g id="k20-4"><use href="#Pl" x="240" y="1050"/></g><g id="k20-5"><use href="#Pl" x="292" y="1050"/></g><g id="k20-6"><use href="#Pl" x="344" y="1050"/></g><g id="k20-7"><use href="#Gl" x="396" y="1050"/></g><g id="k20-8"><use href="#Pl" x="448" y="1050"/></g><g id="k20-9"><use href="#Pl" x="500" y="1050"/></g><g id="k20-10"><use href="#Pl" x="552" y="1050"/></g><g id="k20-11"><use href="#Cl" x="604" y="1050"/></g>
<g id="k21-1"><use href="#Cr" x="84" y="1102"/></g><g id="k21-2"><use href="#Pr" x="136" y="1102"/></g><g id="k21-3"><use href="#Pr" x="188" y="1102"/></g><g id="k21-4"><use href="#Pr" x="240" y="1102"/></g><g id="k21-5"><use href="#Pr" x="292" y="1102"/></g><g id="k21-6"><use href="#Pr" x="344" y="1102"/></g><g id="k21-7"><use href="#Gr" x="396" y="1102"/></g><g id="k21-8"><use href="#Lr" x="448" y="1102"/></g><g id="k21-9"><use href="#Pr" x="500" y="1102"/></g><g id="k21-10"><use href="#Pr" x="552" y="1102"/></g><g id="k21-11"><use href="#Cr" x="604" y="1102"/></g>
<g id="k22-1"><use href="#Cl" x="84" y="1154"/></g><g id="k22-2"><use href="#Pl" x="136" y="1154"/></g><g id="k22-3"><use href="#Pl" x="188" y="1154"/></g><g id="k22-4"><use href="#Pl" x="240" y="1154"/></g><g id="k22-5"><use href="#Pl" x="292" y="1154"/></g><g id="k22-6"><use href="#Pl" x="344" y="1154"/></g><g id="k22-7"><use href="#Gl" x="396" y="1154"/></g><g id="k22-8"><use href="#Pl" x="448" y="1154"/></g><g id="k22-9"><use href="#Pl" x="500" y="1154"/></g><g id="k22-10"><use href="#Pl" x="552" y="1154"/></g><g id="k22-11"><use href="#Cl" x="604" y="1154"/></g>
<g id="k23-1"><use href="#Cr" x="84" y="1206"/></g><g id="k23-2"><use href="#Pr" x="136" y="1206"/></g><g id="k23-3"><use href="#Pr" x="188" y="1206"/></g><g id="k23-4"><use href="#Pr" x="240" y="1206"/></g><g id="k23-5"><use href="#Lr" x="292" y="1206"/></g><g id="k23-6"><use href="#Gr" x="344" y="1206"/></g><g id="k23-7"><use href="#Pr" x="396" y="1206"/></g><g id="k23-8"><use href="#Pr" x="448" y="1206"/></g><g id="k23-9"><use href="#Pr" x="500" y="1206"/></g><g id="k23-10"><use href="#Pr" x="552" y="1206"/></g><g id="k23-11"><use href="#Cr" x="604" y="1206"/></g>
<g id="k24-1"><use href="#Cl" x="84" y="1258"/></g><g id="k24-2"><use href="#Pl" x="136" y="1258"/></g><g id="k24-3"><use href="#Pl" x="188" y="1258"/></g><g id="k24-4"><use href="#Pl" x="240" y="1258"/></g><g id="k24-5"><use href="#Pl" x="292" y="1258"/></g><g id="k24-6"><use href="#Cl" x="344" y="1258"/></g><g id="k24-7"><use href="#Cl" x="396" y="1258"/></g><g id="k24-8"><use href="#Pl" x="448" y="1258"/></g><g id="k24-9"><use href="#Pl" x="500" y="1258"/></g><g id="k24-10"><use href="#Pl" x="552" y="1258"/></g><g id="k24-11"><use href="#Cl" x="604" y="1258"/></g>
<g id="k25-1"><use href="#Cr" x="84" y="1310"/></g><g id="k25-2"><use href="#Pr" x="136" y="1310"/></g><g id="k25-3"><use href="#Pr" x="188" y="1310"/></g><g id="k25-4"><use href="#Pr" x="240" y="1310"/></g><g id="k25-5"><use href="#Pr" x="292" y="1310"/></g><g id="k25-6"><use href="#Cr" x="344" y="1310"/></g><g id="k25-7"><use href="#Cr" x="396" y="1310"/></g><g id="k25-8"><use href="#Cr" x="448" y="1310"/></g><g id="k25-9"><use href="#Cr" x="500" y="1310"/></g><g id="k25-10"><use href="#Pr" x="552" y="1310"/></g><g id="k25-11"><use href="#Cr" x="604" y="1310"/></g>
<g id="k26-1"><use href="#Cl" x="84" y="1362"/></g><g id="k26-2"><use href="#Pl" x="136" y="1362"/></g><g id="k26-3"><use href="#Pl" x="188" y="1362"/></g><g id="k26-4"><use href="#Pl" x="240" y="1362"/></g><g id="k26-5"><use href="#Cl" x="292" y="1362"/></g><g id="k26-6"><use href="#Cl" x="344" y="1362"/></g><g id="k26-7"><use href="#Yl" x="396" y="1362"/></g><g id="k26-8"><use href="#Cl" x="448" y="1362"/></g><g id="k26-9"><use href="#Cl" x="500" y="1362"/></g><g id="k26-10"><use href="#Pl" x="552" y="1362"/></g><g id="k26-11"><use href="#Cl" x="604" y="1362"/></g>
<g id="k27-1"><use href="#Cr" x="84" y="1414"/></g><g id="k27-2"><use href="#Pr" x="136" y="1414"/></g><g id="k27-3"><use href="#Pr" x="188" y="1414"/></g><g id="k27-4"><use href="#Pr" x="240" y="1414"/></g><g id="k27-5"><use href="#Cr" x="292" y="1414"/></g><g id="k27-6"><use href="#Cr" x="344" y="1414"/></g><g id="k27-7"><use href="#Cr" x="396" y="1414"/></g><g id="k27-8"><use href="#Cr" x="448" y="1414"/></g><g id="k27-9"><use href="#Pr" x="500" y="1414"/></g><g id="k27-10"><use href="#Pr" x="552" y="1414"/></g><g id="k27-11"><use href="#Cr" x="604" y="1414"/></g>
<g id="k28-1"><use href="#Cl" x="84" y="1466"/></g><g id="k28-2"><use href="#Pl" x="136" y="1466"/></g><g id="k28-3"><use href="#Pl" x="188" y="1466"/></g><g id="k28-4"><use href="#Pl" x="240" y="1466"/></g><g id="k28-5"><use href="#Pl" x="292" y="1466"/></g><g id="k28-6"><use href="#Gl" x="344" y="1466"/></g><g id="k28-7"><use href="#Cl" x="396" y="1466"/></g><g id="k28-8"><use href="#Cl" x="448" y="1466"/></g><g id="k28-9"><use href="#Pl" x="500" y="1466"/></g><g id="k28-10"><use href="#Pl" x="552" y="1466"/></g><g id="k28-11"><use href="#Cl" x="604" y="1466"/></g>
<g id="k29-1"><use href="#Cr" x="84" y="1518"/></g><g id="k29-2"><use href="#Pr" x="136" y="1518"/></g><g id="k29-3"><use href="#Pr" x="188" y="1518"/></g><g id="k29-4"><use href="#Pr" x="240" y="1518"/></g><g id="k29-5"><use href="#Pr" x="292" y="1518"/></g><g id="k29-6"><use href="#Gr" x="344" y="1518"/></g><g id="k29-7"><use href="#Pr" x="396" y="1518"/></g><g id="k29-8"><use href="#Pr" x="448" y="1518"/></g><g id="k29-9"><use href="#Pr" x="500" y="1518"/></g><g id="k29-10"><use href="#Pr" x="552" y="1518"/></g><g id="k29-11"><use href="#Cr" x="604" y="1518"/></g>
<g id="k30-1"><use href="#Cl" x="84" y="1570"/></g><g id="k30-2"><use href="#Pl" x="136" y="1570"/></g><g id="k30-3"><use href="#Pl" x="188" y="1570"/></g><g id="k30-4"><use href="#Pl" x="240" y="1570"/></g><g id="k30-5"><use href="#Pl" x="292" y="1570"/></g><g id="k30-6"><use href="#Pl" x="344" y="1570"/></g><g id="k30-7"><use href="#Gl" x="396" y="1570"/></g><g id="k30-8"><use href="#Ll" x="448" y="1570"/></g><g id="k30-9"><use href="#Pl" x="500" y="1570"/></g><g id="k30-10"><use href="#Pl" x="552" y="1570"/></g><g id="k30-11"><use href="#Cl" x="604" y="1570"/></g>
<g id="k31-1"><use href="#Cr" x="84" y="1622"/></g><g id="k31-2"><use href="#Pr" x="136" y="1622"/></g><g id="k31-3"><use href="#Pr" x="188" y="1622"/></g><g id="k31-4"><use href="#Pr" x="240" y="1622"/></g><g id="k31-5"><use href="#Pr" x="292" y="1622"/></g><g id="k31-6"><use href="#Lr" x="344" y="1622"/></g><g id="k31-7"><use href="#Gr" x="396" y="1622"/></g><g id="k31-8"><use href="#Pr" x="448" y="1622"/></g><g id="k31-9"><use href="#Pr" x="500" y="1622"/></g><g id="k31-10"><use href="#Pr" x="552" y="1622"/></g><g id="k31-11"><use href="#Cr" x="604" y="1622"/></g>
<g id="k32-1"><use href="#Cl" x="84" y="1674"/></g><g id="k32-2"><use href="#Pl" x="136" y="1674"/></g><g id="k32-3"><use href="#Pl" x="188" y="1674"/></g><g id="k32-4"><use href="#Pl" x="240" y="1674"/></g><g id="k32-5"><use href="#Pl" x="292" y="1674"/></g><g id="k32-6"><use href="#Pl" x="344" y="1674"/></g><g id="k32-7"><use href="#Gl" x="396" y="1674"/></g><g id="k32-8"><use href="#Gl" x="448" y="1674"/></g><g id="k32-9"><use href="#Pl" x="500" y="1674"/></g><g id="k32-10"><use href="#Pl" x="552" y="1674"/></g><g id="k32-11"><use href="#Cl" x="604" y="1674"/></g>
<g id="k33-1"><use href="#Cr" x="84" y="1726"/></g><g id="k33-2"><use href="#Pr" x="136" y="1726"/></g><g id="k33-3"><use href="#Pr" x="188" y="1726"/></g><g id="k33-4"><use href="#Pr" x="240" y="1726"/></g><g id="k33-5"><use href="#Pr" x="292" y="1726"/></g><g id="k33-6"><use href="#Pr" x="344" y="1726"/></g><g id="k33-7"><use href="#Pr" x="396" y="1726"/></g><g id="k33-8"><use href="#Gr" x="448" y="1726"/></g><g id="k33-9"><use href="#Lr" x="500" y="1726"/></g><g id="k33-10"><use href="#Pr" x="552" y="1726"/></g><g id="k33-11"><use href="#Cr" x="604" y="1726"/></g>
<g id="k34-1"><use href="#Cl" x="84" y="1778"/></g><g id="k34-2"><use href="#Pl" x="136" y="1778"/></g><g id="k34-3"><use href="#Pl" x="188" y="1778"/></g><g id="k34-4"><use href="#Pl" x="240" y="1778"/></g><g id="k34-5"><use href="#Cl" x="292" y="1778"/></g><g id="k34-6"><use href="#Cl" x="344" y="1778"/></g><g id="k34-7"><use href="#Ll" x="396" y="1778"/></g><g id="k34-8"><use href="#Pl" x="448" y="1778"/></g><g id="k34-9"><use href="#Pl" x="500" y="1778"/></g><g id="k34-10"><use href="#Pl" x="552" y="1778"/></g><g id="k34-11"><use href="#Cl" x="604" y="1778"/></g>
<g id="k35-1"><use href="#Cr" x="84" y="1830"/></g><g id="k35-2"><use href="#Pr" x="136" y="1830"/></g><g id="k35-3"><use href="#Pr" x="188" y="1830"/></g><g id="k35-4"><use href="#Pr" x="240" y="1830"/></g><g id="k35-5"><use href="#Cr" x="292" y="1830"/></g><g id="k35-6"><use href="#Cr" x="344" y="1830"/></g><g id="k35-7"><use href="#Cr" x="396" y="1830"/></g><g id="k35-8"><use href="#Cr" x="448" y="1830"/></g><g id="k35-9"><use href="#Pr" x="500" y="1830"/></g><g id="k35-10"><use href="#Pr" x="552" y="1830"/></g><g id="k35-11"><use href="#Cr" x="604" y="1830"/></g>
<g id="k36-1"><use href="#Cl" x="84" y="1882"/></g><g id="k36-2"><use href="#Pl" x="136" y="1882"/></g><g id="k36-3"><use href="#Pl" x="188" y="1882"/></g><g id="k36-4"><use href="#Cl" x="240" y="1882"/></g><g id="k36-5"><use href="#Cl" x="292" y="1882"/></g><g id="k36-6"><use href="#Yl" x="344" y="1882"/></g><g id="k36-7"><use href="#Cl" x="396" y="1882"/></g><g id="k36-8"><use href="#Cl" x="448" y="1882"/></g><g id="k36-9"><use href="#Pl" x="500" y="1882"/></g><g id="k36-10"><use href="#Pl" x="552" y="1882"/></g><g id="k36-11"><use href="#Cl" x="604" y="1882"/></g>
<g id="k37-1"><use href="#Cr" x="84" y="1934"/></g><g id="k37-2"><use href="#Pr" x="136" y="1934"/></g><g id="k37-3"><use href="#Pr" x="188" y="1934"/></g><g id="k37-4"><use href="#Cr" x="240" y="1934"/></g><g id="k37-5"><use href="#Cr" x="292" y="1934"/></g><g id="k37-6"><use href="#Cr" x="344" y="1934"/></g><g id="k37-7"><use href="#Cr" x="396" y="1934"/></g><g id="k37-8"><use href="#Pr" x="448" y="1934"/></g><g id="k37-9"><use href="#Pr" x="500" y="1934"/></g><g id="k37-10"><use href="#Pr" x="552" y="1934"/></g><g id="k37-11"><use href="#Cr" x="604" y="1934"/></g>
<g id="k38-1"><use href="#Cl" x="84" y="1986"/></g><g id="k38-2"><use href="#Pl" x="136" y="1986"/></g><g id="k38-3"><use href="#Pl" x="188" y="1986"/></g><g id="k38-4"><use href="#Pl" x="240" y="1986"/></g><g id="k38-5"><use href="#Pl" x="292" y="1986"/></g><g id="k38-6"><use href="#Cl" x="344" y="1986"/></g><g id="k38-7"><use href="#Cl" x="396" y="1986"/></g><g id="k38-8"><use href="#Pl" x="448" y="1986"/></g><g id="k38-9"><use href="#Pl" x="500" y="1986"/></g><g id="k38-10"><use href="#Pl" x="552" y="1986"/></g><g id="k38-11"><use href="#Cl" x="604" y="1986"/></g>
<g id="k39-1"><use href="#Cr" x="84" y="2038"/></g><g id="k39-2"><use href="#Pr" x="136" y="2038"/></g><g id="k39-3"><use href="#Pr" x="188" y="2038"/></g><g id="k39-4"><use href="#Pr" x="240" y="2038"/></g><g id="k39-5"><use href="#Pr" x="292" y="2038"/></g><g id="k39-6"><use href="#Pr" x="344" y="2038"/></g><g id="k39-7"><use href="#Gr" x="396" y="2038"/></g><g id="k39-8"><use href="#Pr" x="448" y="2038"/></g><g id="k39-9"><use href="#Pr" x="500" y="2038"/></g><g id="k39-10"><use href="#Pr" x="552" y="2038"/></g><g id="k39-11"><use href="#Cr" x="604" y="2038"/></g>
<g id="k40-1"><use href="#Cl" x="84" y="2090"/></g><g id="k40-2"><use href="#Pl" x="136" y="2090"/></g><g id="k40-3"><use href="#Pl" x="188" y="2090"/></g><g id="k40-4"><use href="#Pl" x="240" y="2090"/></g><g id="k40-5"><use href="#Pl" x="292" y="2090"/></g><g id="k40-6"><use href="#Gl" x="344" y="2090"/></g><g id="k40-7"><use href="#Ll" x="396" y="2090"/></g><g id="k40-8"><use href="#Pl" x="448" y="2090"/></g><g id="k40-9"><use href="#Pl" x="500" y="2090"/></g><g id="k40-10"><use href="#Pl" x="552" y="2090"/></g><g id="k40-11"><use href="#Cl" x="604" y="2090"/></g>
<g id="k41-1"><use href="#Cr" x="84" y="2142"/></g><g id="k41-2"><use href="#Pr" x="136" y="2142"/></g><g id="k41-3"><use href="#Pr" x="188" y="2142"/></g><g id="k41-4"><use href="#Pr" x="240" y="2142"/></g><g id="k41-5"><use href="#Lr" x="292" y="2142"/></g><g id="k41-6"><use href="#Gr" x="344" y="2142"/></g><g id="k41-7"><use href="#Pr" x="396" y="2142"/></g><g id="k41-8"><use href="#Pr" x="448" y="2142"/></g><g id="k41-9"><use href="#Pr" x="500" y="2142"/></g><g id="k41-10"><use href="#Pr" x="552" y="2142"/></g><g id="k41-11"><use href="#Cr" x="604" y="2142"/></g>
<g id="k42-1"><use href="#Cl" x="84" y="2194"/></g><g id="k42-2"><use href="#Pl" x="136" y="2194"/></g><g id="k42-3"><use href="#Pl" x="188" y="2194"/></g><g id="k42-4"><use href="#Pl" x="240" y="2194"/></g><g id="k42-5"><use href="#Pl" x="292" y="2194"/></g><g id="k42-6"><use href="#Cl" x="344" y="2194"/></g><g id="k42-7"><use href="#Cl" x="396" y="2194"/></g><g id="k42-8"><use href="#Pl" x="448" y="2194"/></g><g id="k42-9"><use href="#Pl" x="500" y="2194"/></g><g id="k42-10"><use href="#Pl" x="552" y="2194"/></g><g id="k42-11"><use href="#Cl" x="604" y="2194"/></g>
<g id="k43-1"><use href="#Cr" x="84" y="2246"/></g><g id="k43-2"><use href="#Pr" x="136" y="2246"/></g><g id="k43-3"><use href="#Pr" x="188" y="2246"/></g><g id="k43-4"><use href="#Cr" x="240" y="2246"/></g><g id="k43-5"><use href="#Cr" x="292" y="2246"/></g><g id="k43-6"><use href="#Cr" x="344" y="2246"/></g><g id="k43-7"><use href="#Cr" x="396" y="2246"/></g><g id="k43-8"><use href="#Pr" x="448" y="2246"/></g><g id="k43-9"><use href="#Pr" x="500" y="2246"/></g><g id="k43-10"><use href="#Pr" x="552" y="2246"/></g><g id="k43-11"><use href="#Cr" x="604" y="2246"/></g>
<g id="k44-1"><use href="#Cl" x="84" y="2298"/></g><g id="k44-2"><use href="#Pl" x="136" y="2298"/></g><g id="k44-3"><use href="#Pl" x="188" y="2298"/></g><g id="k44-4"><use href="#Cl" x="240" y="2298"/></g><g id="k44-5"><use href="#Cl" x="292" y="2298"/></g><g id="k44-6"><use href="#Yl" x="344" y="2298"/></g><g id="k44-7"><use href="#Cl" x="396" y="2298"/></g><g id="k44-8"><use href="#Cl" x="448" y="2298"/></g><g id="k44-9"><use href="#Pl" x="500" y="2298"/></g><g id="k44-10"><use href="#Pl" x="552" y="2298"/></g><g id="k44-11"><use href="#Cl" x="604" y="2298"/></g>
<g id="k45-1"><use href="#Cr" x="84" y="2350"/></g><g id="k45-2"><use href="#Pr" x="136" y="2350"/></g><g id="k45-3"><use href="#Pr" x="188" y="2350"/></g><g id="k45-4"><use href="#Gr" x="240" y="2350"/></g><g id="k45-5"><use href="#Cr" x="292" y="2350"/></g><g id="k45-6"><use href="#Cr" x="344" y="2350"/></g><g id="k45-7"><use href="#Cr" x="396" y="2350"/></g><g id="k45-8"><use href="#Cr" x="448" y="2350"/></g><g id="k45-9"><use href="#Pr" x="500" y="2350"/></g><g id="k45-10"><use href="#Pr" x="552" y="2350"/></g><g id="k45-11"><use href="#Cr" x="604" y="2350"/></g>
<g id="k46-1"><use href="#Cl" x="84" y="2402"/></g><g id="k46-2"><use href="#Pl" x="136" y="2402"/></g><g id="k46-3"><use href="#Ll" x="188" y="2402"/></g><g id="k46-4"><use href="#Gl" x="240" y="2402"/></g><g id="k46-5"><use href="#Cl" x="292" y="2402"/></g><g id="k46-6"><use href="#Cl" x="344" y="2402"/></g><g id="k46-7"><use href="#Pl" x="396" y="2402"/></g><g id="k46-8"><use href="#Pl" x="448" y="2402"/></g><g id="k46-9"><use href="#Pl" x="500" y="2402"/></g><g id="k46-10"><use href="#Pl" x="552" y="2402"/></g><g id="k46-11"><use href="#Cl" x="604" y="2402"/></g>
<g id="k47-1"><use href="#Cr" x="84" y="2454"/></g><g id="k47-2"><use href="#Pr" x="136" y="2454"/></g><g id="k47-3"><use href="#Pr" x="188" y="2454"/></g><g id="k47-4"><use href="#Gr" x="240" y="2454"/></g><g id="k47-5"><use href="#Lr" x="292" y="2454"/></g><g id="k47-6"><use href="#Pr" x="344" y="2454"/></g><g id="k47-7"><use href="#Pr" x="396" y="2454"/></g><g id="k47-8"><use href="#Pr" x="448" y="2454"/></g><g id="k47-9"><use href="#Pr" x="500" y="2454"/></g><g id="k47-10"><use href="#Pr" x="552" y="2454"/></g><g id="k47-11"><use href="#Cr" x="604" y="2454"/></g>
<g id="k48-1"><use href="#Cl" x="84" y="2506"/></g><g id="k48-2"><use href="#Pl" x="136" y="2506"/></g><g id="k48-3"><use href="#Pl" x="188" y="2506"/></g><g id="k48-4"><use href="#Gl" x="240" y="2506"/></g><g id="k48-5"><use href="#Pl" x="292" y="2506"/></g><g id="k48-6"><use href="#Pl" x="344" y="2506"/></g><g id="k48-7"><use href="#Pl" x="396" y="2506"/></g><g id="k48-8"><use href="#Pl" x="448" y="2506"/></g><g id="k48-9"><use href="#Pl" x="500" y="2506"/></g><g id="k48-10"><use href="#Pl" x="552" y="2506"/></g><g id="k48-11"><use href="#Cl" x="604" y="2506"/></g>
<g id="k49-1"><use href="#Cr" x="84" y="2558"/></g><g id="k49-2"><use href="#Pr" x="136" y="2558"/></g><g id="k49-3"><use href="#Pr" x="188" y="2558"/></g><g id="k49-4"><use href="#Pr" x="240" y="2558"/></g><g id="k49-5"><use href="#Gr" x="292" y="2558"/></g><g id="k49-6"><use href="#Pr" x="344" y="2558"/></g><g id="k49-7"><use href="#Pr" x="396" y="2558"/></g><g id="k49-8"><use href="#Pr" x="448" y="2558"/></g><g id="k49-9"><use href="#Pr" x="500" y="2558"/></g><g id="k49-10"><use href="#Pr" x="552" y="2558"/></g><g id="k49-11"><use href="#Cr" x="604" y="2558"/></g>
<g id="k50-1"><use href="#Cl" x="84" y="2610"/></g><g id="k50-2"><use href="#Pl" x="136" y="2610"/></g><g id="k50-3"><use href="#Pl" x="188" y="2610"/></g><g id="k50-4"><use href="#Pl" x="240" y="2610"/></g><g id="k50-5"><use href="#Pl" x="292" y="2610"/></g><g id="k50-6"><use href="#Gl" x="344" y="2610"/></g><g id="k50-7"><use href="#Ll" x="396" y="2610"/></g><g id="k50-8"><use href="#Pl" x="448" y="2610"/></g><g id="k50-9"><use href="#Pl" x="500" y="2610"/></g><g id="k50-10"><use href="#Pl" x="552" y="2610"/></g><g id="k50-11"><use href="#Cl" x="604" y="2610"/></g>
<g id="k51-1"><use href="#Cr" x="84" y="2662"/></g><g id="k51-2"><use href="#Pr" x="136" y="2662"/></g><g id="k51-3"><use href="#Pr" x="188" y="2662"/></g><g id="k51-4"><use href="#Pr" x="240" y="2662"/></g><g id="k51-5"><use href="#Lr" x="292" y="2662"/></g><g id="k51-6"><use href="#Gr" x="344" y="2662"/></g><g id="k51-7"><use href="#Pr" x="396" y="2662"/></g><g id="k51-8"><use href="#Pr" x="448" y="2662"/></g><g id="k51-9"><use href="#Pr" x="500" y="2662"/></g><g id="k51-10"><use href="#Pr" x="552" y="2662"/></g><g id="k51-11"><use href="#Cr" x="604" y="2662"/></g>
<g id="k52-1"><use href="#Cl" x="84" y="2714"/></g><g id="k52-2"><use href="#Pl" x="136" y="2714"/></g><g id="k52-3"><use href="#Pl" x="188" y="2714"/></g><g id="k52-4"><use href="#Pl" x="240" y="2714"/></g><g id="k52-5"><use href="#Gl" x="292" y="2714"/></g><g id="k52-6"><use href="#Pl" x="344" y="2714"/></g><g id="k52-7"><use href="#Pl" x="396" y="2714"/></g><g id="k52-8"><use href="#Pl" x="448" y="2714"/></g><g id="k52-9"><use href="#Pl" x="500" y="2714"/></g><g id="k52-10"><use href="#Pl" x="552" y="2714"/></g><g id="k52-11"><use href="#Cl" x="604" y="2714"/></g>
</g>
<text x="346" y="1393" text-anchor="middle" font-family="Liberation Sans,Arial,sans-serif" font-size="14.5" font-weight="bold" fill="#3c3c3c" stroke="#fff" stroke-width="2.5" paint-order="stroke" textLength="154" lengthAdjust="spacingAndGlyphs">BRACELETBOOK.COM</text>
</svg>
